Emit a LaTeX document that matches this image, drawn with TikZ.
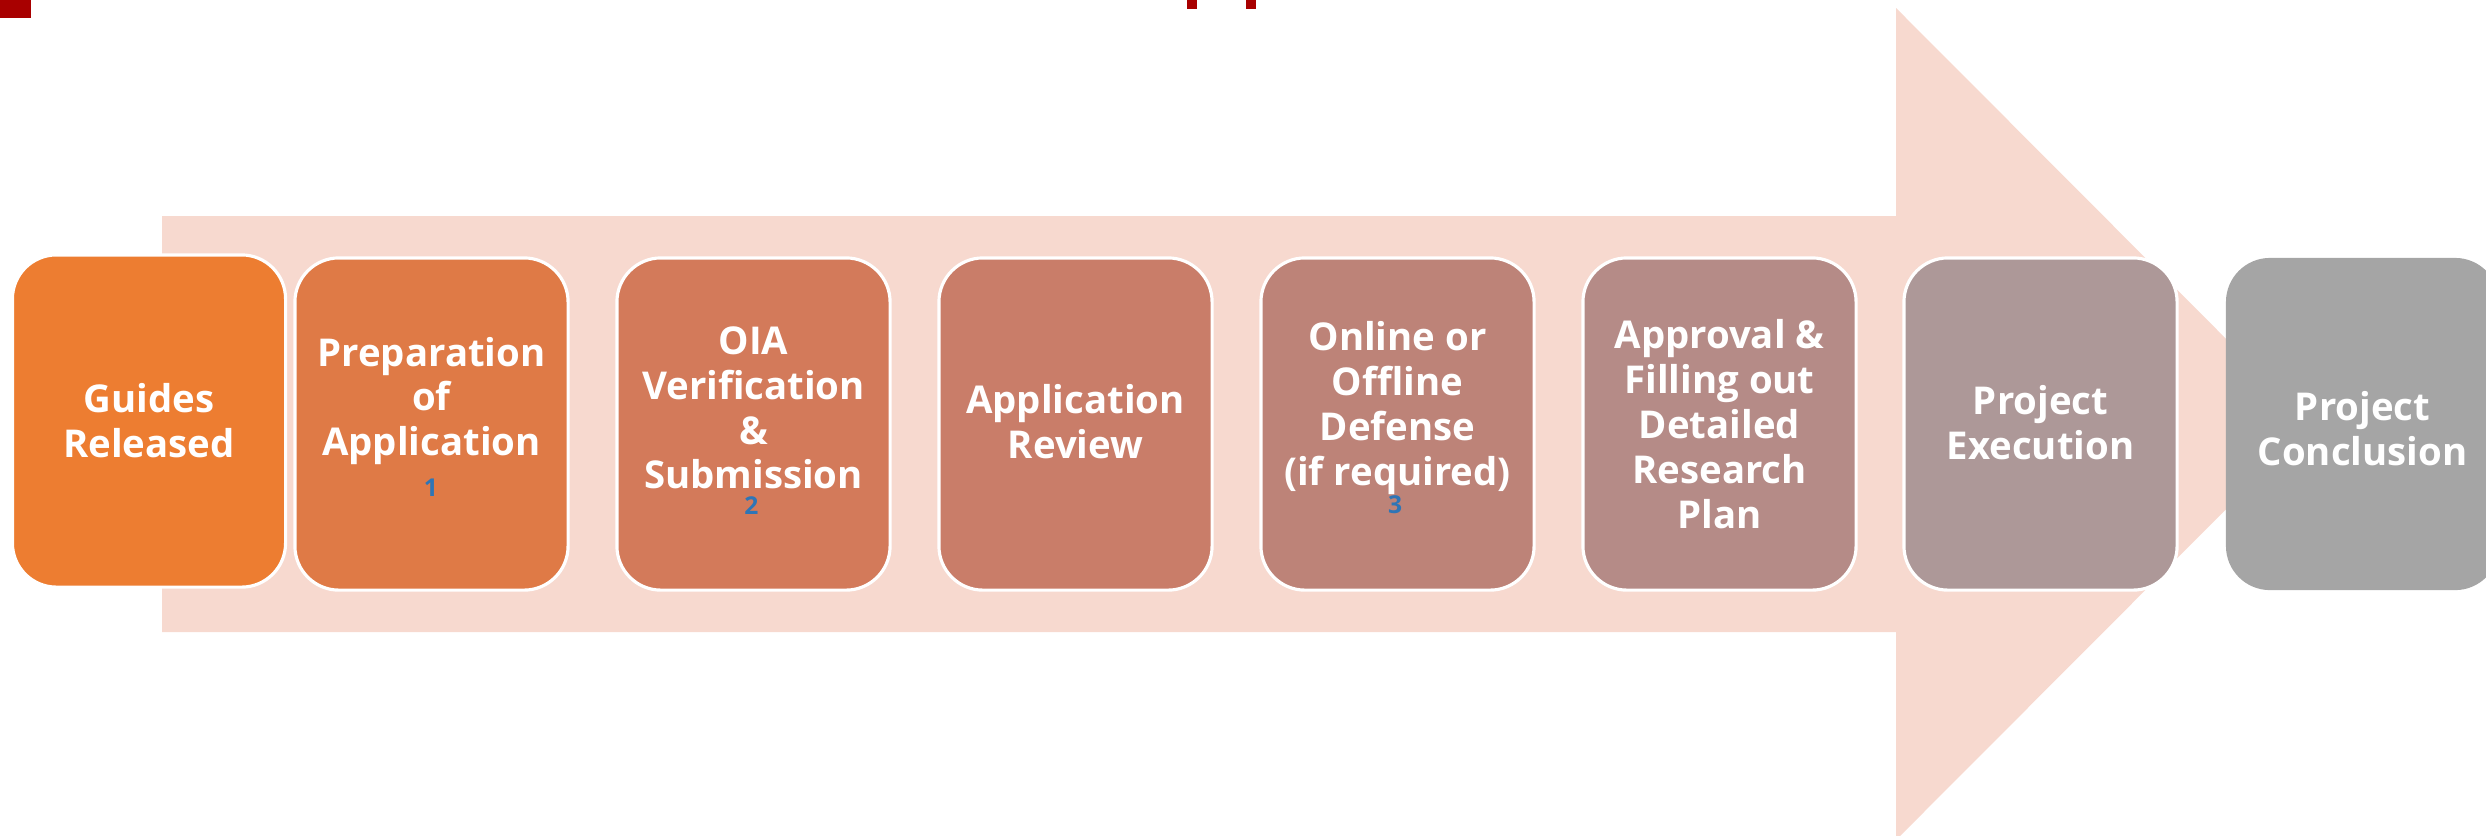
\documentclass[tikz,border=0pt]{standalone}
\usepackage{fontspec}
\setmainfont{Open Sans}
\definecolor{arrowfill}{HTML}{F7D9CF}
\definecolor{titlered}{HTML}{A80000}
\definecolor{numblue}{HTML}{2E75B6}
\definecolor{cA}{HTML}{ED7D31}
\definecolor{cB}{HTML}{DF7A46}
\definecolor{cC}{HTML}{D37A5A}
\definecolor{cD}{HTML}{C97D69}
\definecolor{cE}{HTML}{BD8378}
\definecolor{cF}{HTML}{B58B87}
\definecolor{cG}{HTML}{AD9898}
\definecolor{cH}{HTML}{A5A5A5}
\begin{document}
\begin{tikzpicture}[x=0.01cm,y=-0.01cm,
  box/.style={draw=white, line width=0.9pt, rounded corners=0.44cm,
    minimum width=2.73cm, minimum height=3.32cm, inner sep=0pt},
  lbl/.style={text=white, font=\fontsize{10.9pt}{12.75pt}\selectfont\bfseries,
    align=center, inner sep=0pt},
  num/.style={text=numblue, font=\fontsize{7pt}{7pt}\selectfont\bfseries, inner sep=0pt}]
\useasboundingbox (0,0) rectangle (2486,835);
\clip (0,0) rectangle (2486,835);
% title fragments
\fill[titlered] (0,0) rectangle (31,17.6);
\fill[titlered] (1187,0) rectangle (1197,9);
\fill[titlered] (1246,0) rectangle (1256,9);
% big arrow
\fill[arrowfill] (162,216) -- (1896,216) -- (1896,8) -- (2311,424) -- (1896,840)
  -- (1896,632) -- (162,632) -- cycle;
% boxes
\node[box, fill=cA] (b1) at (149,421) {};
\node[box, fill=cB] (b2) at (431.5,424) {};
\node[box, fill=cC] (b3) at (753.5,424) {};
\node[box, fill=cD] (b4) at (1075.5,424) {};
\node[box, fill=cE] (b5) at (1397.5,424) {};
\node[box, fill=cF] (b6) at (1719.5,424) {};
\node[box, fill=cG] (b7) at (2040.5,424) {};
\node[box, fill=cH, draw=none] (b8) at (2362.5,424) {};
% labels
\node[lbl] (t1) at (149,421) {Guides\\Released};
\node[lbl] (t2) at (431.5,401) {Preparation\\of\\Application};
\node[lbl] (t3) at (753.5,408) {OIA\\Verification\\\&\\Submission};
\node[lbl] (t4) at (1075.5,422) {Application\\Review};
\node[lbl] (t5) at (1397.5,408) {Online or\\Offline\\Defense\\(if required)};
\node[lbl] (t6) at (1719.5,424) {Approval \&\\Filling out\\Detailed\\Research\\Plan};
\node[lbl] (t7) at (2040.5,423) {Project\\Execution};
\node[lbl] (t8) at (2362.5,429) {Project\\Conclusion};
% footnote numbers
\node[num] (n1) at (431,488) {1};
\node[num] (n2) at (751.5,506) {2};
\node[num] (n3) at (1395,505) {3};
\end{tikzpicture}
\end{document}
